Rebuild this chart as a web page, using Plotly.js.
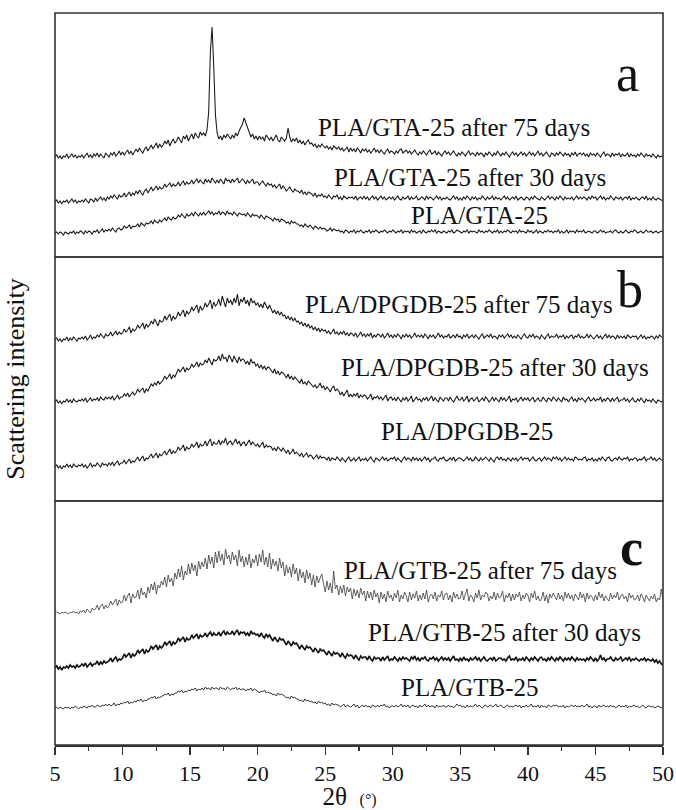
<!DOCTYPE html>
<html>
<head>
<meta charset="utf-8">
<script src="https://cdn.plot.ly/plotly-3.0.1.min.js"></script>
<style>html,body{margin:0;padding:0;background:#fff;}#chart{width:676px;height:810px;}</style>
</head>
<body>
<div id="chart"></div>
<script>
// 2θ sampling grid (degrees): 5 to 50, step 0.125 (361 points)
const twoTheta = [];
for (let i = 0; i <= 360; i++) twoTheta.push(5 + i * 0.125);

// ---- Panel a : PLA/GTA-25 (intensity, a.u., offset-stacked) ----
const gta75 = [
100,102,99,101,98,101,100,103, 99,101,103,100,102,99,101,100, 102,99,101,104,100,102,99,103, 101,104,100,103,101,99,104,102, 100,104,102,105,101,103,106,102,
105,102,104,107,103,106,102,105, 108,105,109,106,104,108,110,106, 109,112,108,111,114,109,113,110, 112,116,113,117,111,115,118,114, 116,120,117,114,121,118,122,116,
120,123,118,124,121,119,125,122, 124,121,127,145,205,230,190,142, 124,118,121,117,122,119,123,120, 118,122,119,124,121,126,129,133, 139,134,128,124,120,123,118,121,
117,121,118,120,116,122,119,117, 120,116,119,122,117,115,120,118, 116,119,129,120,115,118,116,119, 114,117,113,116,112,115,117,113, 114,111,113,109,112,110,113,111,
109,111,108,110,107,111,109,108, 110,107,109,106,108,110,105,109, 106,108,105,109,107,104,108,106, 108,105,107,104,106,109,105,107, 104,107,105,103,106,108,104,106,
105,103,106,104,107,108,104,106, 107,104,106,103,105,107,104,102, 105,103,106,104,102,105,107,103, 104,106,102,105,103,101,104,106, 103,105,102,104,106,103,101,104,
102,105,103,101,104,106,102,104, 103,101,105,102,104,103,100,104, 102,105,103,101,104,102,106,103, 101,104,102,105,103,100,103,105, 102,104,101,103,105,102,104,101,
103,105,102,104,101,103,106,102, 104,101,103,105,102,100,104,103, 101,104,102,105,103,101,104,102, 103,100,104,102,105,101,103,104, 102,104,101,103,100,104,102,103,
101,104,102,100,103,105,101,103, 102,100,104,101,103,102,104,100, 103,101,102,104,100,103,101,102, 100,103,101,104,102,100,103,101, 102,100,103,101,99,102,100,101,
100];
const gta30 = [
55,57,54,56,53,56,55,57, 54,56,58,55,57,54,56,55, 57,55,58,56,54,58,57,55, 59,56,58,60,57,59,56,60, 58,61,59,62,60,58,62,60,
61,64,60,63,65,61,64,62, 66,63,67,64,62,66,68,64, 67,70,66,69,71,67,70,68, 69,73,70,72,74,70,73,71, 72,75,71,74,76,72,75,73,
74,77,73,76,78,74,77,75, 73,78,75,77,74,79,76,74, 77,74,78,75,73,79,76,77, 74,78,75,77,79,74,76,78, 76,73,77,74,76,78,73,75,
75,72,74,76,73,71,74,72, 73,70,72,69,71,73,68,71, 69,66,68,70,67,65,68,66, 66,64,67,63,65,62,65,64, 63,61,64,60,62,61,63,60,
61,59,62,60,58,61,60,62, 58,60,57,61,59,58,60,59, 60,58,61,57,59,60,58,61, 58,60,57,59,61,58,60,57, 59,61,58,60,57,59,60,58,
60,57,59,61,58,57,60,58, 59,61,57,60,58,59,61,57, 58,60,59,57,61,58,60,59, 57,59,61,58,60,57,59,58, 60,58,57,59,61,58,60,57,
59,57,60,58,61,59,57,60, 58,60,57,59,58,61,59,57, 60,58,59,61,57,60,58,59, 57,59,61,58,60,57,59,60, 58,61,57,59,60,58,57,60,
59,57,60,58,61,59,58,57, 60,58,57,59,61,58,60,59, 57,60,58,61,59,57,60,58, 59,58,60,57,59,61,58,60, 58,60,59,57,60,58,61,59,
60,57,59,61,58,60,57,59, 58,61,59,57,60,59,58,60, 57,59,60,58,61,57,59,58, 60,58,57,59,60,58,61,57, 59,57,60,58,57,59,58,57,
56];
const gta0 = [
24,25,23,25,24,22,25,24, 23,25,24,26,23,25,24,26, 25,23,26,24,26,25,23,26, 25,27,24,26,28,25,27,26, 28,26,29,27,25,28,29,27,
28,31,29,30,32,28,31,30, 31,33,30,34,32,31,34,33, 34,36,33,37,35,34,37,35, 37,39,36,40,38,37,40,38, 39,42,40,43,41,39,43,41,
42,44,41,45,43,41,44,42, 45,42,44,46,43,45,42,44, 43,46,42,45,44,42,46,43, 44,42,45,43,41,44,43,42, 43,41,44,42,40,43,41,42,
41,39,42,40,38,41,40,39, 38,36,39,37,38,35,38,37, 36,34,35,33,36,34,35,33, 33,31,32,30,33,31,30,32, 30,28,31,29,28,30,28,29,
28,26,27,29,26,28,27,26, 27,25,26,24,27,26,24,26, 25,27,24,26,25,27,25,24, 26,25,27,24,26,25,27,25, 24,26,25,27,25,24,26,25,
27,25,24,26,25,27,24,26, 25,26,24,27,25,26,24,25, 26,24,27,25,24,26,25,27, 25,27,24,26,25,24,26,25, 24,26,25,27,24,25,27,26,
25,24,26,25,27,24,26,25, 26,25,24,27,25,26,24,26, 25,27,25,24,26,25,27,24, 26,24,26,25,27,25,24,26, 25,26,24,27,25,26,25,24,
27,25,26,24,25,27,24,26, 25,24,26,25,27,25,26,24, 26,25,27,24,26,24,25,27, 24,26,25,26,24,27,25,26, 25,27,24,25,26,25,24,26,
26,24,25,27,25,26,24,25, 25,26,24,26,27,25,24,26, 24,25,27,25,24,26,25,27, 26,24,25,26,24,25,27,25, 25,26,24,25,26,24,25,26,
25];

// ---- Panel b : PLA/DPGDB-25 ----
const dpgdb75 = [
161,163,160,162,159,162,161,164, 160,163,161,164,162,160,163,162, 164,162,165,161,163,166,162,164, 163,166,164,167,165,163,167,165, 166,169,165,168,170,166,169,167,
168,172,169,171,174,168,172,170, 172,176,173,175,178,172,177,174, 176,180,177,182,178,175,181,179, 180,185,181,184,187,180,185,182, 184,189,185,188,191,184,190,187,
189,194,190,193,196,188,195,191, 193,198,194,197,201,192,199,195, 197,202,195,205,199,194,203,198, 201,196,203,198,207,195,202,199, 204,197,201,195,203,198,200,196,
198,194,197,193,199,195,192,196, 192,188,191,187,190,186,189,185, 186,182,185,181,184,180,183,179, 180,177,179,175,178,174,177,173, 175,171,174,170,173,169,172,170,
171,168,170,167,169,172,167,169, 166,169,167,170,166,168,165,168, 167,165,168,164,166,169,165,167, 164,167,165,168,163,166,164,167, 166,164,167,163,165,168,164,166,
163,166,164,167,165,162,166,164, 167,164,166,163,165,168,164,166, 164,166,163,167,165,162,166,164, 166,163,165,168,164,166,163,165, 164,167,163,165,166,163,167,164,
165,162,166,164,167,163,165,166, 163,166,164,162,165,167,163,165, 166,164,167,163,165,164,162,166, 164,166,163,165,167,164,166,163, 165,163,166,164,162,165,167,164,
163,166,164,167,163,165,164,162, 166,164,162,165,167,163,165,164, 164,167,163,165,164,166,162,165, 163,165,166,162,165,164,167,163, 165,163,164,167,163,166,164,162,
164,166,163,165,162,164,167,163, 166,163,165,164,162,166,163,165, 163,165,162,166,164,163,165,164, 165,162,164,166,163,165,162,164, 163,165,164,162,165,163,166,164,
164];
const dpgdb30 = [
99,101,98,100,97,100,99,102, 99,101,98,102,100,99,101,100, 102,100,103,99,101,103,100,102, 101,103,100,104,102,101,104,102, 104,102,105,101,103,106,102,104,
104,107,105,108,104,106,109,106, 108,112,109,111,113,108,112,110, 113,117,115,118,116,120,117,119, 121,125,122,124,127,122,126,124, 128,132,129,131,134,129,133,131,
133,137,134,136,139,134,138,136, 137,141,138,143,139,136,142,140, 141,145,140,147,142,144,139,146, 143,139,145,141,138,144,140,142, 141,137,140,136,142,138,139,135,
137,133,136,132,135,131,134,133, 131,128,132,127,130,126,129,128, 126,123,127,122,125,121,124,122, 121,118,122,117,119,116,120,118, 117,114,116,113,115,118,113,115,
111,114,112,109,113,115,110,112, 110,106,109,105,108,111,104,107, 104,107,105,108,103,106,104,106, 105,102,104,107,101,104,103,105, 102,104,101,103,106,100,103,104,
101,103,100,104,102,99,103,101, 104,100,102,105,99,102,104,101, 102,99,103,101,104,100,102,105, 100,103,101,99,104,102,100,103, 103,100,104,101,99,102,105,101,
101,104,100,102,105,99,102,103, 100,102,104,99,101,103,100,104, 102,99,101,104,100,103,101,99, 104,101,103,100,102,105,99,102, 101,103,99,102,104,100,103,101,
103,100,102,104,99,101,103,100, 100,104,101,99,103,102,100,104, 102,100,103,101,99,104,101,102, 99,102,104,100,102,99,103,101, 103,101,99,102,104,100,101,103,
100,102,101,104,99,102,100,103, 102,99,103,100,102,104,99,101, 101,103,100,102,99,101,103,100, 99,102,100,103,101,98,102,100, 101,99,102,100,98,101,100,99,
100];
const dpgdb0 = [
34,36,33,35,32,35,34,37, 34,36,33,37,35,34,36,35, 37,34,36,33,35,38,34,36, 35,38,36,34,38,36,37,35, 38,36,39,35,38,40,36,38,
38,41,37,40,42,38,40,39, 41,44,40,43,45,40,43,42, 44,47,43,46,48,43,47,45, 47,50,46,49,52,47,50,48, 50,54,51,53,56,50,54,52,
53,57,54,56,59,53,57,55, 56,60,55,59,62,55,59,57, 57,61,56,60,58,63,56,59, 60,56,59,62,57,60,55,58, 59,55,58,61,56,59,57,55,
57,54,56,59,53,56,54,55, 54,51,53,50,54,52,50,53, 50,48,51,47,49,52,47,49, 47,45,48,44,46,48,44,46, 45,42,44,46,42,45,43,44,
43,41,44,40,43,42,41,44, 42,40,43,41,39,42,44,40, 41,43,40,42,44,40,42,41, 43,40,42,44,41,39,43,42, 40,42,44,41,43,40,42,43,
42,44,40,43,41,39,42,44, 41,43,42,40,44,41,43,40, 43,40,42,44,41,43,39,42, 42,44,41,40,43,42,44,41, 40,42,43,41,44,40,42,43,
43,41,40,42,44,41,43,40, 41,44,42,40,43,41,42,44, 42,40,43,41,39,43,44,41, 44,41,42,40,43,42,40,43, 41,43,40,42,44,41,43,42,
43,40,42,44,41,40,42,43, 40,42,44,41,43,42,40,44, 42,44,41,43,40,42,44,41, 43,41,42,40,44,43,41,42, 41,43,44,40,42,41,43,40,
42,40,43,41,44,42,40,43, 44,41,40,42,43,41,44,42, 41,43,42,44,40,42,41,43, 43,40,42,41,43,44,40,42, 42,44,41,43,40,42,43,41,
41];

// ---- Panel c : PLA/GTB-25 ----
const gtb75 = [
132,133,132,131,133,132,133,132, 131,133,132,134,132,133,131,134, 133,135,132,136,134,132,137,135, 136,140,135,139,141,136,140,137, 139,144,140,143,146,139,145,142,
143,150,144,149,152,142,151,147, 148,155,146,157,150,153,147,158, 152,161,155,163,151,160,157,164, 160,168,158,170,163,167,159,172, 166,176,168,179,165,174,170,181,
171,182,174,180,169,184,176,183, 178,187,176,190,181,188,177,193, 182,194,184,191,180,196,186,190, 181,193,185,190,179,195,183,189, 178,188,180,191,177,186,182,190,
179,191,183,195,180,188,178,192, 176,186,179,184,174,187,177,183, 169,180,172,178,168,181,171,177, 164,176,167,173,162,175,166,172, 160,170,158,169,162,167,171,161,
153,164,155,162,152,174,156,160, 150,159,152,160,149,158,153,157, 146,156,149,155,147,157,150,154, 144,154,147,153,145,155,148,152, 142,153,146,151,143,154,147,150,
144,152,147,155,143,150,146,153, 149,143,153,145,151,147,154,144, 150,145,152,146,155,143,149,151, 146,153,144,150,148,154,145,151, 152,145,150,143,153,147,151,146,
147,154,145,151,156,144,150,148, 143,152,147,155,145,150,148,153, 151,144,149,146,153,145,152,147, 148,154,143,150,147,152,144,151, 145,151,148,153,144,150,146,152,
150,143,152,147,154,145,149,144, 146,153,144,150,142,151,147,152, 149,145,152,146,150,144,153,147, 152,146,150,144,151,148,145,153, 147,151,143,152,146,150,148,144,
150,145,153,147,151,144,149,146, 144,152,146,150,147,153,145,149, 151,146,149,143,152,147,150,145, 146,150,144,151,148,143,150,147, 144,149,146,151,143,147,145,156,
145];
const gtb30 = [
77,79,76,78,75,78,77,79, 77,80,78,79,77,80,78,79, 81,79,82,78,80,82,79,81, 81,84,80,83,81,84,82,83, 84,87,83,86,88,84,86,85,
87,91,88,90,92,87,91,89, 91,95,92,94,96,91,95,93, 95,99,96,98,100,95,99,97, 99,103,100,102,104,99,103,101, 103,107,104,106,108,103,107,105,
106,110,107,109,111,106,110,108, 109,112,108,111,113,109,112,110, 110,113,109,112,114,110,113,111, 111,114,110,113,115,110,113,112, 113,110,112,109,114,111,112,110,
111,108,112,109,107,111,108,110, 107,104,108,105,103,107,105,106, 103,100,104,101,99,103,101,102, 99,96,100,97,95,99,97,98, 96,93,97,94,92,96,94,95,
93,90,94,91,89,93,91,92, 91,88,92,89,87,91,89,90, 89,86,90,87,85,89,87,88, 88,85,89,86,84,88,86,87, 87,84,88,85,87,89,84,86,
85,88,86,84,87,85,88,86, 87,85,84,88,86,89,85,87, 84,87,86,88,85,84,87,86, 88,85,87,84,86,88,85,87, 85,87,84,86,89,85,86,84,
87,84,88,85,86,84,87,85, 86,88,85,87,84,86,88,85, 84,86,87,85,88,84,86,87, 87,85,86,84,87,89,85,86, 85,88,84,86,85,87,84,88,
86,84,87,85,88,86,84,87, 88,85,86,84,87,85,88,86, 84,87,85,88,86,84,87,85, 87,85,88,86,84,87,85,86, 85,86,84,87,85,88,86,84,
87,84,86,90,85,87,84,86, 86,88,85,84,87,85,86,88, 84,86,87,85,88,84,86,85, 87,85,84,86,85,87,84,86, 85,84,86,83,85,82,84,81,
80];
const gtb0 = [
37,38,36,38,37,36,38,37, 38,36,38,37,39,37,36,38, 37,39,38,37,39,38,40,38, 38,40,39,38,40,39,41,39, 41,39,40,42,39,41,40,42,
41,43,42,44,41,43,42,44, 43,45,44,46,43,45,44,46, 46,48,47,49,46,48,47,49, 49,51,50,52,49,51,50,52, 52,54,53,55,52,54,53,55,
54,56,55,57,54,56,55,57, 55,58,56,57,55,58,56,57, 57,55,58,56,57,55,58,56, 55,57,56,58,55,57,55,56, 56,54,56,55,57,54,56,55,
54,52,54,53,55,52,53,52, 52,50,51,49,52,50,51,50, 49,47,48,46,49,47,48,46, 46,44,45,43,46,44,45,43, 44,42,43,41,44,42,43,41,
42,40,41,39,42,40,41,40, 40,38,39,41,38,40,39,38, 39,41,38,40,37,39,40,38, 40,38,39,37,40,39,38,40, 38,40,39,41,38,39,37,39,
39,38,40,38,39,41,38,40, 38,40,37,39,40,38,39,37, 40,38,39,41,38,40,38,39, 39,37,40,38,39,38,40,38, 38,40,38,39,37,39,41,39,
40,38,39,37,40,38,39,38, 39,41,38,40,38,37,39,40, 38,39,40,38,39,41,38,39, 40,38,37,39,40,38,39,38, 39,40,38,40,37,39,38,40,
38,39,41,38,39,38,40,37, 40,38,39,37,40,39,38,40, 39,40,38,39,38,40,37,39, 38,39,40,38,40,38,39,38, 40,38,39,41,38,39,37,39,
39,37,40,38,39,40,38,39, 38,40,38,39,37,39,40,38, 39,38,40,37,39,38,39,40, 38,39,37,39,40,38,37,39, 39,38,39,37,38,39,38,37,
38];

const seriesNames = [
  "PLA/GTA-25 after 75 days", "PLA/GTA-25 after 30 days", "PLA/GTA-25",
  "PLA/DPGDB-25 after 75 days", "PLA/DPGDB-25 after 30 days", "PLA/DPGDB-25",
  "PLA/GTB-25 after 75 days", "PLA/GTB-25 after 30 days", "PLA/GTB-25"
];
const panelLetters = ["a", "b", "c"];
const xTickVals = [5, 10, 15, 20, 25, 30, 35, 40, 45, 50];
const xTickText = ["5", "10", "15", "20", "25", "30", "35", "40", "45", "50"];

const allSeries = [gta75, gta30, gta0, dpgdb75, dpgdb30, dpgdb0, gtb75, gtb30, gtb0];
allSeries.forEach(function (s, k) {
  if (s.length !== twoTheta.length) throw new Error("length mismatch in " + seriesNames[k] + ": " + s.length);
});

const serif = "'Liberation Serif', 'Times New Roman', serif";
const dark = "#161616";

function tr(y, name, yaxis, color, width) {
  return {x: twoTheta, y: y, name: name, type: "scatter", mode: "lines",
          xaxis: "x", yaxis: yaxis, line: {color: color, width: width},
          hoverinfo: "x+y+name"};
}

const data = [
  tr(gta75, seriesNames[0], "y", dark, 1.05),
  tr(gta30, seriesNames[1], "y", dark, 1.05),
  tr(gta0,  seriesNames[2], "y", dark, 1.05),
  tr(dpgdb75, seriesNames[3], "y2", dark, 1.05),
  tr(dpgdb30, seriesNames[4], "y2", dark, 1.05),
  tr(dpgdb0,  seriesNames[5], "y2", dark, 1.05),
  tr(gtb75, seriesNames[6], "y3", "#444", 0.85),
  tr(gtb30, seriesNames[7], "y3", "#111", 1.6),
  tr(gtb0,  seriesNames[8], "y3", "#2a2a2a", 0.95)
];

const labelFont = {family: serif, size: 25, color: "#111"};
const letterFont = {family: serif, size: 52, color: "#111"};
function ann(text, x, y, yref, font) {
  return {text: text, x: x, y: y, xref: "x", yref: yref, showarrow: false,
          xanchor: "center", yanchor: "middle", font: font};
}

const annotations = [
  ann(panelLetters[0], 47.34, 184, "y", letterFont),
  ann(seriesNames[0], 34.5, 130, "y", labelFont),
  ann(seriesNames[1], 35.7, 80, "y", labelFont),
  ann(seriesNames[2], 36.4, 42, "y", labelFont),
  ann(panelLetters[1], 47.56, 212, "y2", letterFont),
  ann(seriesNames[3], 34.9, 197, "y2", labelFont),
  ann(seriesNames[4], 37.6, 134, "y2", labelFont),
  ann(seriesNames[5], 35.5, 70, "y2", labelFont),
  ann("<b>" + panelLetters[2] + "</b>", 47.64, 198, "y3", letterFont),
  ann(seriesNames[6], 36.5, 175, "y3", labelFont),
  ann(seriesNames[7], 38.3, 113, "y3", labelFont),
  ann(seriesNames[8], 35.7, 58, "y3", labelFont)
];

const borderLine = {color: "#333", width: 1.6};
const shapes = [
  {type: "rect", xref: "paper", yref: "paper", x0: 0, x1: 1, y0: 2/3, y1: 1, line: borderLine},
  {type: "rect", xref: "paper", yref: "paper", x0: 0, x1: 1, y0: 1/3, y1: 2/3, line: borderLine},
  {type: "rect", xref: "paper", yref: "paper", x0: 0, x1: 1, y0: 0, y1: 1/3, line: borderLine}
];

const yCommon = {range: [0, 244], showticklabels: false, ticks: "", showgrid: false,
                 zeroline: false, showline: false, fixedrange: true, anchor: "x"};

const layout = {
  width: 676, height: 810,
  margin: {l: 55, r: 13, t: 13, b: 65},
  paper_bgcolor: "#fff", plot_bgcolor: "#fff",
  showlegend: false,
  font: {family: serif, color: "#111"},
  xaxis: {
    range: [5, 50], anchor: "y3", showgrid: false, zeroline: false,
    showline: true, linecolor: "#333", linewidth: 1.6,
    tickmode: "array", tickvals: xTickVals, ticktext: xTickText,
    ticks: "outside", ticklen: 8, tickwidth: 1.4, tickcolor: "#333",
    tickfont: {family: serif, size: 22, color: "#111"},
    minor: {dtick: 2.5, tick0: 5, ticks: "outside", ticklen: 4, tickwidth: 1.2, tickcolor: "#333", showgrid: false},
    title: {text: "2θ&nbsp;&nbsp;<span style='font-size:16px'>(°)</span>&nbsp;&nbsp;&nbsp;", font: {family: serif, size: 25, color: "#111"}, standoff: 8}
  },
  yaxis:  Object.assign({}, yCommon, {domain: [2/3, 1]}),
  yaxis2: Object.assign({}, yCommon, {domain: [1/3, 2/3],
           title: {text: "Scattering intensity", font: {family: serif, size: 26, color: "#111"}, standoff: 21}}),
  yaxis3: Object.assign({}, yCommon, {domain: [0, 1/3]}),
  annotations: annotations,
  shapes: shapes
};

Plotly.newPlot("chart", data, layout, {displayModeBar: false, staticPlot: true});
</script>
</body>
</html>
